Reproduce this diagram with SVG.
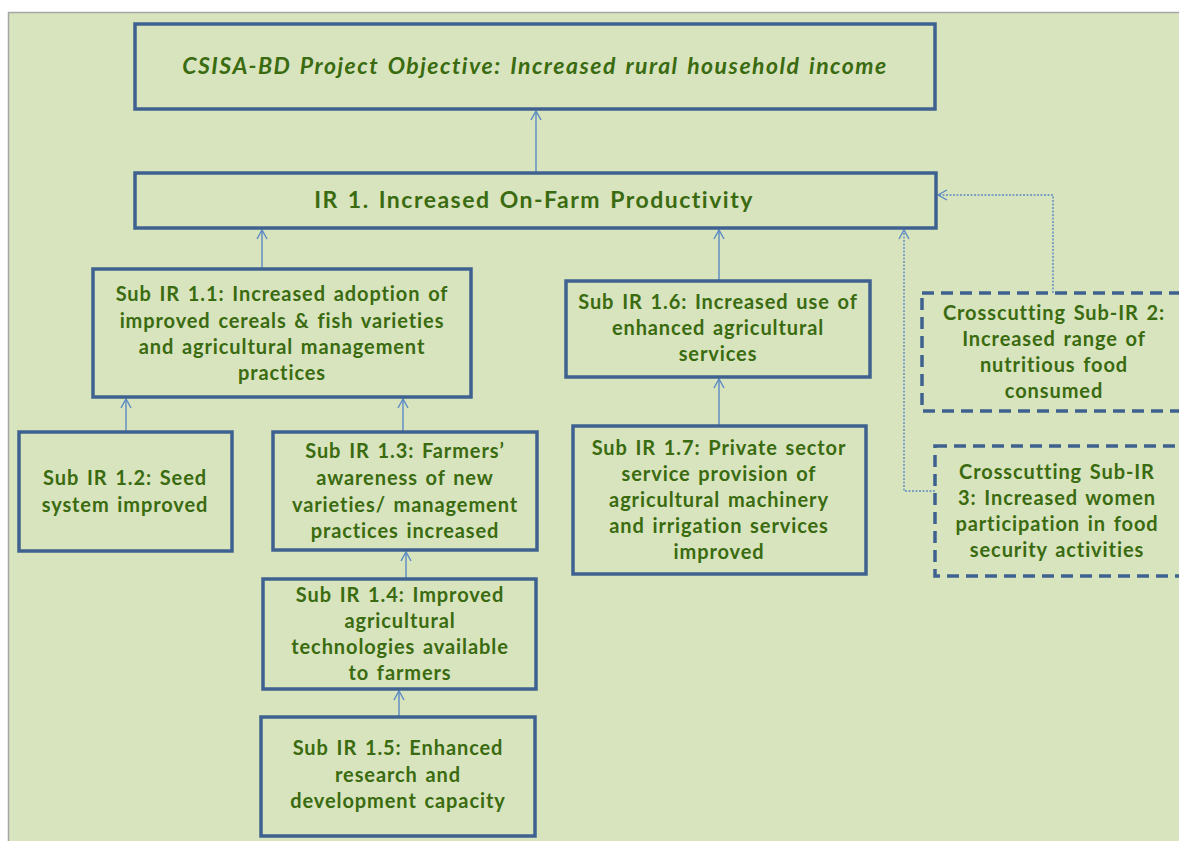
<svg xmlns="http://www.w3.org/2000/svg" width="1179" height="841" viewBox="0 0 1179 841">
  <style>
    .box { fill: none; stroke: #3f6190; stroke-width: 3.5; }
    .dash { fill: none; stroke: #3f6190; stroke-width: 3.5; stroke-dasharray: 12 7; }
    .lbl { font-family: Lato, "Liberation Sans", sans-serif; font-weight: bold; font-size: 20px; letter-spacing: 0.9px; word-spacing: 2px; fill: #3a6b10; text-anchor: middle; }
    .big { font-size: 23px; letter-spacing: 1.5px; word-spacing: 2px; }
    .conn { fill: none; stroke: #5b89c4; stroke-width: 1.4; }
    .dot { stroke-dasharray: 2 1.5; }
  </style>
  <defs>
    <marker id="arr" markerWidth="12" markerHeight="12" refX="10" refY="6" orient="auto" markerUnits="userSpaceOnUse">
      <path d="M1,1 L10,6 L1,11" fill="none" stroke="#5b89c4" stroke-width="1.4"/>
    </marker>
  </defs>

  <!-- page background and frame -->
  <rect x="0" y="0" width="1179" height="841" fill="#ffffff"/>
  <rect x="9" y="13" width="1175" height="835" fill="#d8e4bd"/>
  <path d="M8.5,841 L8.5,12.5 L1179,12.5" fill="none" stroke="#a6a6a6" stroke-width="1.5"/>

  <!-- connectors -->
  <g id="connectors">
    <line class="conn" x1="536" y1="173" x2="536" y2="111" marker-end="url(#arr)"/>
    <line class="conn" x1="262" y1="269" x2="262" y2="230" marker-end="url(#arr)"/>
    <line class="conn" x1="719" y1="281" x2="719" y2="230" marker-end="url(#arr)"/>
    <line class="conn" x1="126" y1="432" x2="126" y2="399" marker-end="url(#arr)"/>
    <line class="conn" x1="403" y1="432" x2="403" y2="399" marker-end="url(#arr)"/>
    <line class="conn" x1="406" y1="579" x2="406" y2="552" marker-end="url(#arr)"/>
    <line class="conn" x1="399" y1="717" x2="399" y2="691" marker-end="url(#arr)"/>
    <line class="conn" x1="719" y1="426" x2="719" y2="379" marker-end="url(#arr)"/>
    <path class="conn dot" d="M1053,293 L1053,195 L938,195" marker-end="url(#arr)"/>
    <path class="conn dot" d="M935,491 L904,491 L904,230" marker-end="url(#arr)"/>
  </g>

  <g id="objective">
    <rect class="box" x="135" y="24" width="800" height="85"/>
    <text class="lbl big" x="535" y="74" font-style="italic">CSISA-BD Project Objective:  Increased rural household income</text>
  </g>

  <g id="ir1">
    <rect class="box" x="135" y="173" width="801" height="55"/>
    <text class="lbl big" x="534" y="208">IR 1. Increased On-Farm Productivity</text>
  </g>

  <g id="sub-ir-1-1">
    <rect class="box" x="93" y="269" width="378" height="128"/>
    <text class="lbl" x="282"><tspan x="282" y="301">Sub IR 1.1:  Increased adoption of</tspan><tspan x="282" y="328">improved cereals &amp; fish varieties</tspan><tspan x="282" y="354">and agricultural management</tspan><tspan x="282" y="380">practices</tspan></text>
  </g>

  <g id="sub-ir-1-2">
    <rect class="box" x="19" y="432" width="213" height="119"/>
    <text class="lbl" x="125"><tspan x="125" y="485">Sub IR 1.2:  Seed</tspan><tspan x="125" y="512">system improved</tspan></text>
  </g>

  <g id="sub-ir-1-3">
    <rect class="box" x="273" y="432" width="264" height="118"/>
    <text class="lbl" x="405"><tspan x="405" y="458">Sub IR 1.3:  Farmers’</tspan><tspan x="405" y="485">awareness of new</tspan><tspan x="405" y="512">varieties/ management</tspan><tspan x="405" y="538">practices increased</tspan></text>
  </g>

  <g id="sub-ir-1-4">
    <rect class="box" x="263" y="579" width="273" height="110"/>
    <text class="lbl" x="400"><tspan x="400" y="602">Sub IR 1.4:  Improved</tspan><tspan x="400" y="628">agricultural</tspan><tspan x="400" y="654">technologies available</tspan><tspan x="400" y="680">to farmers</tspan></text>
  </g>

  <g id="sub-ir-1-5">
    <rect class="box" x="261" y="717" width="274" height="119"/>
    <text class="lbl" x="398"><tspan x="398" y="755">Sub IR 1.5:  Enhanced</tspan><tspan x="398" y="782">research and</tspan><tspan x="398" y="808">development capacity</tspan></text>
  </g>

  <g id="sub-ir-1-6">
    <rect class="box" x="566" y="281" width="304" height="96"/>
    <text class="lbl" x="718"><tspan x="718" y="309">Sub IR 1.6: Increased use of</tspan><tspan x="718" y="335">enhanced agricultural</tspan><tspan x="718" y="361">services</tspan></text>
  </g>

  <g id="sub-ir-1-7">
    <rect class="box" x="573" y="426" width="293" height="148"/>
    <text class="lbl" x="719"><tspan x="719" y="455">Sub IR 1.7:  Private sector</tspan><tspan x="719" y="481">service provision of</tspan><tspan x="719" y="507">agricultural machinery</tspan><tspan x="719" y="533">and irrigation services</tspan><tspan x="719" y="559">improved</tspan></text>
  </g>

  <g id="crosscutting-2">
    <rect class="dash" x="922" y="293" width="280" height="118"/>
    <text class="lbl" x="1054"><tspan x="1054" y="320">Crosscutting Sub-IR 2:</tspan><tspan x="1054" y="346">Increased range of</tspan><tspan x="1054" y="372">nutritious food</tspan><tspan x="1054" y="398">consumed</tspan></text>
  </g>

  <g id="crosscutting-3">
    <rect class="dash" x="935" y="446" width="270" height="130"/>
    <text class="lbl" x="1057"><tspan x="1057" y="479">Crosscutting Sub-IR</tspan><tspan x="1057" y="505">3: Increased women</tspan><tspan x="1057" y="531">participation in food</tspan><tspan x="1057" y="557">security activities</tspan></text>
  </g>
</svg>
